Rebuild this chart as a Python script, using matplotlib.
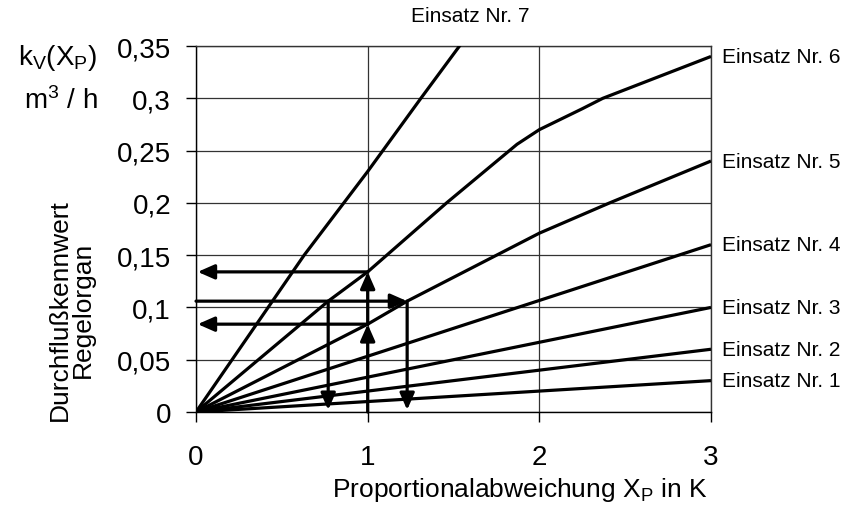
import matplotlib
matplotlib.use("Agg")
import matplotlib.pyplot as plt

plt.rcParams['font.family'] = ['Liberation Sans', 'DejaVu Sans']
plt.rcParams['mathtext.fontset'] = 'custom'
plt.rcParams['mathtext.rm'] = 'Liberation Sans'
plt.rcParams['mathtext.it'] = 'Liberation Sans:italic'

# curves: x positions and kv values
x_lin = [0, 3]
kv_nr1 = [0, 0.03]
kv_nr2 = [0, 0.06]
kv_nr3 = [0, 0.10]
kv_nr4 = [0, 0.16]
x_nr5 = [0, 1.0, 1.23, 2.0, 2.41, 3.0]
kv_nr5 = [0, 0.084, 0.106, 0.171, 0.20, 0.24]
x_nr6 = [0, 0.77, 1.0, 1.46, 1.87, 2.0, 2.25, 2.37, 3.0]
kv_nr6 = [0, 0.106, 0.134, 0.20, 0.256, 0.27, 0.29, 0.30, 0.34]
x_nr7 = [0, 0.63, 1.0, 1.31, 1.535]
kv_nr7 = [0, 0.15, 0.23, 0.30, 0.35]

labels = ['Einsatz Nr. 1', 'Einsatz Nr. 2', 'Einsatz Nr. 3', 'Einsatz Nr. 4',
          'Einsatz Nr. 5', 'Einsatz Nr. 6']
label7 = 'Einsatz Nr. 7'

yticks = [0, 0.05, 0.1, 0.15, 0.2, 0.25, 0.3, 0.35]
yticklabels = ['0', '0,05', '0,1', '0,15', '0,2', '0,25', '0,3', '0,35']
xticks = [0, 1, 2, 3]

# reading example (arrows)
kv_read_low = 0.084
kv_read_mid = 0.106
kv_read_high = 0.134
xp_read = 1.0
xp_left = 0.77
xp_right = 1.23

fig = plt.figure(figsize=(8.46, 5.06), dpi=100)
ax = fig.add_axes([0.2317, 0.1838, 0.6087, 0.7233])

curves = [(x_lin, kv_nr1), (x_lin, kv_nr2), (x_lin, kv_nr3), (x_lin, kv_nr4),
          (x_nr5, kv_nr5), (x_nr6, kv_nr6)]
for (xs, ys), lab in zip(curves, labels):
    ax.plot(xs, ys, color='black', lw=2.3, solid_capstyle='butt', zorder=3)
    ax.annotate(lab, xy=(xs[-1], ys[-1]), xytext=(8, 0), textcoords='offset points',
                va='center', ha='left', fontsize=15, annotation_clip=False)
ax.plot(x_nr7, kv_nr7, color='black', lw=2.3, zorder=3)

ax.set_xlim(0, 3)
ax.set_ylim(0, 0.35)
ax.set_xticks(xticks)
ax.set_xticklabels([str(v) for v in xticks], fontsize=20)
ax.set_yticks(yticks)
ax.set_yticklabels(yticklabels, fontsize=20)
ax.tick_params(axis='y', direction='out', length=7, width=1, pad=11)
ax.tick_params(axis='x', direction='out', length=7, width=1, pad=16)
ax.grid(True, color='#333333', lw=0.9)
ax.set_axisbelow(True)
for s in ax.spines.values():
    s.set_linewidth(1.0)
    s.set_color('#333333')
ax.spines['left'].set_color('black')
ax.spines['bottom'].set_color('black')

arrow = dict(arrowstyle='-|>,head_length=0.5,head_width=0.22', color='black',
             lw=2.3, shrinkA=0, shrinkB=0, mutation_scale=20)

# vertical up arrows at Xp = 1
ax.annotate('', xy=(xp_read, kv_read_low), xytext=(xp_read, 0), arrowprops=arrow)
ax.annotate('', xy=(xp_read, kv_read_high), xytext=(xp_read, kv_read_low), arrowprops=arrow)
# horizontal arrows to the kv axis
ax.annotate('', xy=(0.01, kv_read_low), xytext=(xp_read, kv_read_low), arrowprops=arrow)
ax.annotate('', xy=(0.01, kv_read_high), xytext=(xp_read, kv_read_high), arrowprops=arrow)
# horizontal line at mid value, arrow to the right
ax.annotate('', xy=(xp_right, kv_read_mid), xytext=(0, kv_read_mid), arrowprops=arrow)
# down arrows
ax.annotate('', xy=(xp_left, 0.002), xytext=(xp_left, kv_read_mid), arrowprops=arrow)
ax.annotate('', xy=(xp_right, 0.002), xytext=(xp_right, kv_read_mid), arrowprops=arrow)

ax.text(1.6, 0.37, label7, fontsize=15, ha='center', va='bottom')

fig.text(0.115, 0.885, r'$\mathregular{k_V(X_P)}$', fontsize=20, ha='right', va='center')
fig.text(0.115, 0.800, r'$\mathregular{m^3\ /\ h}$', fontsize=20, ha='right', va='center')
fig.text(0.084, 0.387, 'Durchflußkennwert\nRegelorgan', fontsize=19, rotation=90,
         ha='center', va='center', multialignment='center', linespacing=0.95)
fig.text(0.615, 0.032, r'Proportionalabweichung X$\mathregular{_P}$ in K', fontsize=19,
         ha='center', va='center')

fig.savefig('out.png', dpi=100)
